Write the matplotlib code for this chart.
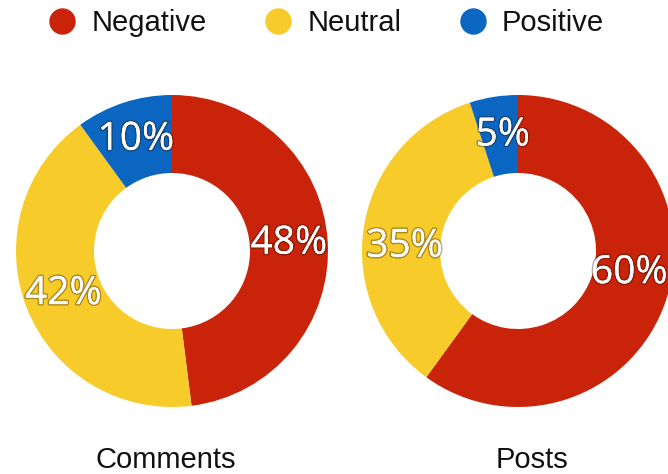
import matplotlib
matplotlib.use("Agg")
import matplotlib.pyplot as plt
import matplotlib.patheffects as pe
from matplotlib.lines import Line2D

categories = ["Negative", "Neutral", "Positive"]
comments = [48, 42, 10]
posts = [60, 35, 5]
chart_titles = ["Comments", "Posts"]
colors = ["#C92309", "#F7CC2A", "#0B66C1"]

W, H = 668, 474
fig = plt.figure(figsize=(W / 100, H / 100), dpi=100)
ax = fig.add_axes([0, 0, 1, 1])

centers = [(172, H - 251), (518, H - 251)]
radius = 156
ring = 78
nudges = [[(0, 0), (0, 0), (0, 0)], [(0, 14), (2, -14), (3, 0)]]

shadow = [pe.withStroke(linewidth=2.2, foreground=(0.15, 0.05, 0, 0.35)), pe.Normal()]

for data, c, title, nud in zip([comments, posts], centers, chart_titles, nudges):
    wedges, texts, autotexts = ax.pie(
        data, colors=colors, startangle=90, counterclock=False,
        center=c, radius=radius, wedgeprops=dict(width=ring, linewidth=0),
        autopct=lambda p: f"{p:.0f}%", pctdistance=(radius - ring / 2) / radius,
        textprops=dict(color="white", fontsize=28, family=["Open Sans", "DejaVu Sans"]),
        frame=True)
    for t, (dx, dy) in zip(autotexts, nud):
        x, y = t.get_position()
        t.set_position((x + dx, y + dy))
        t.set_path_effects(shadow)

ax.text(166, H - 468, chart_titles[0], ha="center", va="baseline", fontsize=21,
        family="Liberation Sans", color="#111111")
ax.text(532, H - 468, chart_titles[1], ha="center", va="baseline", fontsize=21,
        family="Liberation Sans", color="#111111")

ax.set_xlim(0, W)
ax.set_ylim(0, H)
ax.set_aspect("equal")
ax.axis("off")

handles = [Line2D([], [], linestyle="none", marker="o", markersize=18,
                  markerfacecolor=col, markeredgecolor=col) for col in colors]
leg = ax.legend(handles, categories, loc="center left", ncol=3,
                bbox_to_anchor=(47.5 / W, 1 - 23 / H), borderaxespad=0, borderpad=0,
                frameon=False, handlelength=1.0, handletextpad=0.5, columnspacing=1.95,
                prop=dict(family="Liberation Sans", size=21))
for t in leg.get_texts():
    t.set_color("#111111")

fig.savefig("out.png", dpi=100)
